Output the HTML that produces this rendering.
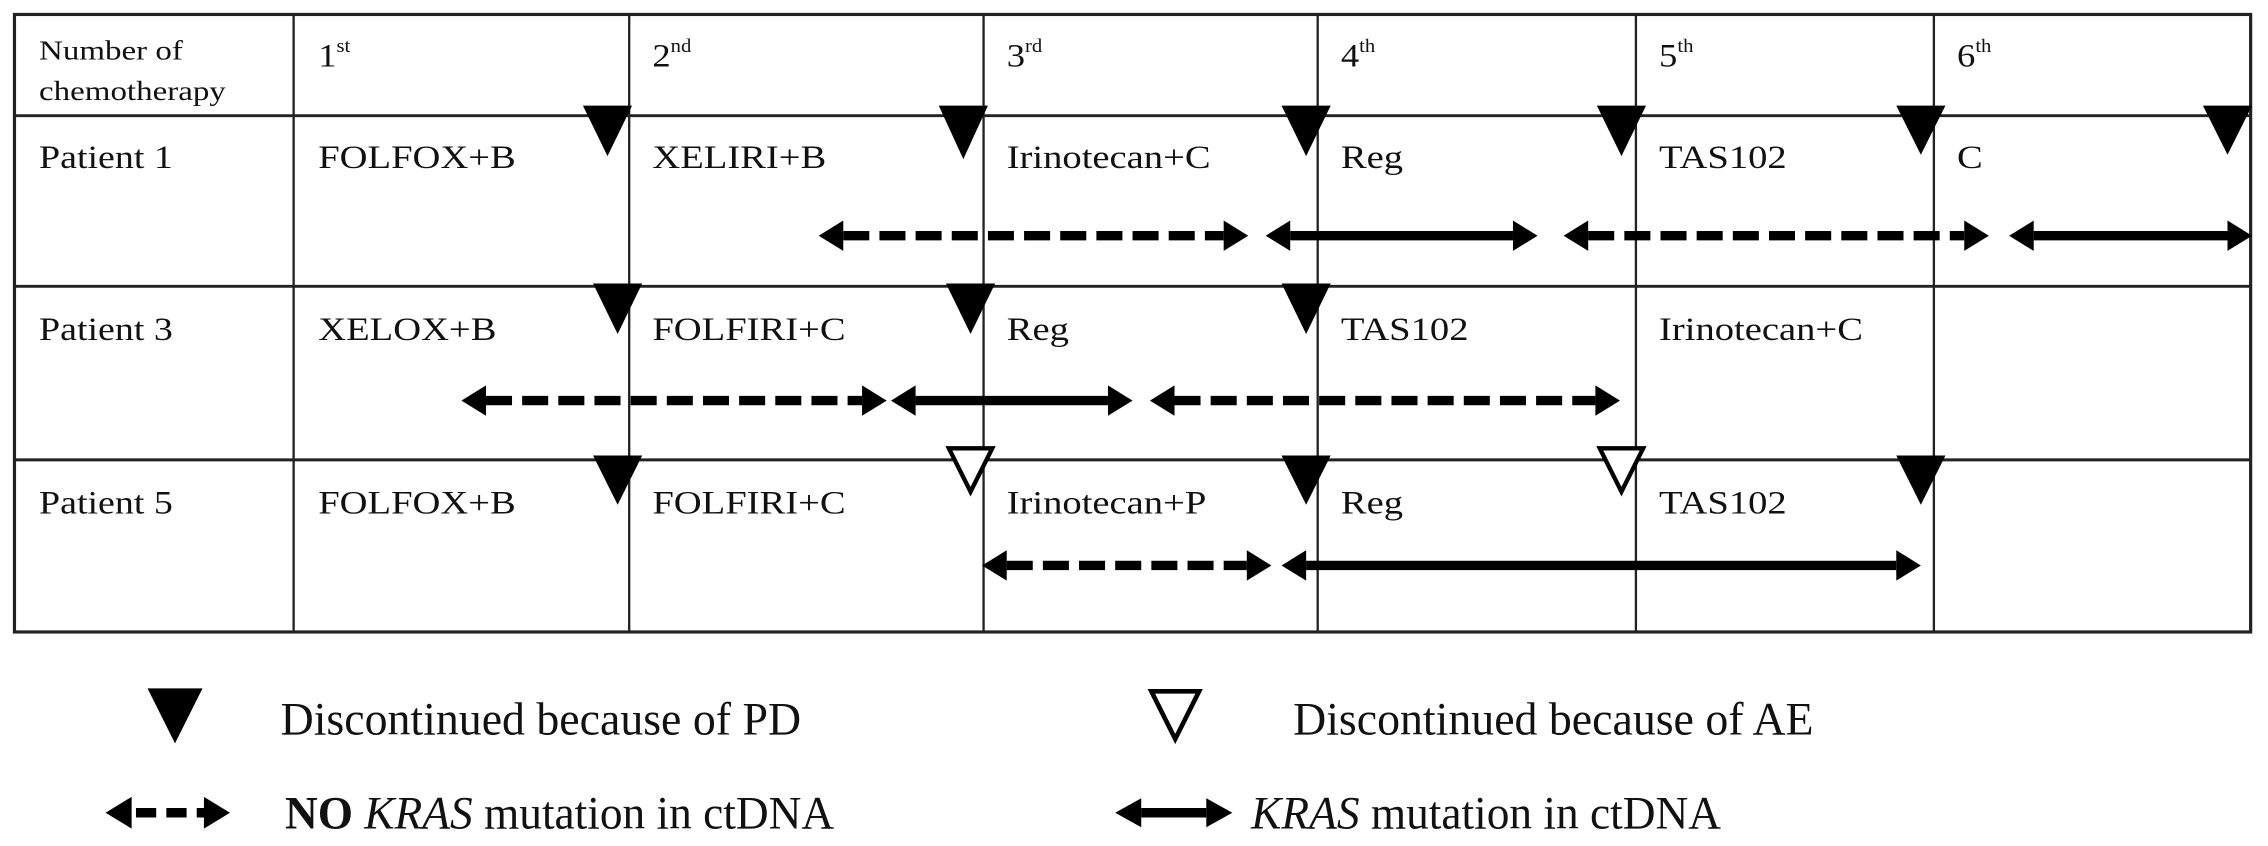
<!DOCTYPE html>
<html><head><meta charset="utf-8"><style>
html,body{margin:0;padding:0;background:#fff;}
svg{display:block;}
text{font-family:"Liberation Serif",serif;fill:#111;}
</style></head><body>
<svg width="2268" height="846" viewBox="0 0 1568 585" preserveAspectRatio="none" xmlns="http://www.w3.org/2000/svg">
<g stroke="#222" stroke-width="1.6" fill="none">
<rect x="10" y="10" width="1546" height="427" stroke-width="2.2"/>
<line x1="10" y1="80" x2="1556" y2="80" stroke-width="2"/>
<line x1="10" y1="198" x2="1556" y2="198" stroke-width="2"/>
<line x1="10" y1="318" x2="1556" y2="318" stroke-width="2"/>
<line x1="203" y1="10" x2="203" y2="437"/>
<line x1="435" y1="10" x2="435" y2="437"/>
<line x1="680" y1="10" x2="680" y2="437"/>
<line x1="911" y1="10" x2="911" y2="437"/>
<line x1="1131" y1="10" x2="1131" y2="437"/>
<line x1="1337" y1="10" x2="1337" y2="437"/>
</g>
<g font-size="19">
<text transform="matrix(1.2,0,0,1,27,41)">Number of</text>
<text transform="matrix(1.2,0,0,1,27,69)">chemotherapy</text>
</g>
<g font-size="23">
<text transform="matrix(1.1,0,0,1,220,46)">1<tspan font-size="13" dy="-10">st</tspan></text>
<text transform="matrix(1.1,0,0,1,451,46)">2<tspan font-size="13" dy="-10">nd</tspan></text>
<text transform="matrix(1.1,0,0,1,696,46)">3<tspan font-size="13" dy="-10">rd</tspan></text>
<text transform="matrix(1.1,0,0,1,927,46)">4<tspan font-size="13" dy="-10">th</tspan></text>
<text transform="matrix(1.1,0,0,1,1147,46)">5<tspan font-size="13" dy="-10">th</tspan></text>
<text transform="matrix(1.1,0,0,1,1353,46)">6<tspan font-size="13" dy="-10">th</tspan></text>
<text transform="matrix(1.14,0,0,1,27,116)">Patient 1</text>
<text transform="matrix(1.16,0,0,1,220,116)">FOLFOX+B</text>
<text transform="matrix(1.16,0,0,1,451,116)">XELIRI+B</text>
<text transform="matrix(1.16,0,0,1,696,116)">Irinotecan+C</text>
<text transform="matrix(1.16,0,0,1,927,116)">Reg</text>
<text transform="matrix(1.16,0,0,1,1147,116)">TAS102</text>
<text transform="matrix(1.16,0,0,1,1353,116)">C</text>
<text transform="matrix(1.14,0,0,1,27,235)">Patient 3</text>
<text transform="matrix(1.16,0,0,1,220,235)">XELOX+B</text>
<text transform="matrix(1.16,0,0,1,451,235)">FOLFIRI+C</text>
<text transform="matrix(1.16,0,0,1,696,235)">Reg</text>
<text transform="matrix(1.16,0,0,1,927,235)">TAS102</text>
<text transform="matrix(1.16,0,0,1,1147,235)">Irinotecan+C</text>
<text transform="matrix(1.14,0,0,1,27,355)">Patient 5</text>
<text transform="matrix(1.16,0,0,1,220,355)">FOLFOX+B</text>
<text transform="matrix(1.16,0,0,1,451,355)">FOLFIRI+C</text>
<text transform="matrix(1.16,0,0,1,696,355)">Irinotecan+P</text>
<text transform="matrix(1.16,0,0,1,927,355)">Reg</text>
<text transform="matrix(1.16,0,0,1,1147,355)">TAS102</text>
</g>
<g fill="#000">
<path d="M403,73 h34 l-17,35 z"/>
<path d="M649,73 h34 l-17,37 z"/>
<path d="M886,73 h34 l-17,35 z"/>
<path d="M1104,73 h34 l-17,35 z"/>
<path d="M1311,73 h34 l-17,34 z"/>
<path d="M1523,73 h34 l-17,34 z"/>
<path d="M410,196 h34 l-17,35 z"/>
<path d="M654,196 h34 l-17,35 z"/>
<path d="M886,196 h34 l-17,35 z"/>
<path d="M410,315 h34 l-17,34 z"/>
<path d="M886,315 h34 l-17,34 z"/>
<path d="M1311,315 h34 l-17,34 z"/>
</g>
<g fill="#fff" stroke="#000" stroke-width="3">
<path d="M656,310 h30 l-15,30 z"/>
<path d="M1106,310 h30 l-15,30 z"/>
</g>
<g stroke="#000" stroke-width="6.5" fill="none">
<line x1="583" y1="163" x2="846" y2="163" stroke-dasharray="18,7"/>
<line x1="892" y1="163" x2="1046" y2="163"/>
<line x1="1098" y1="163" x2="1358" y2="163" stroke-dasharray="18,7"/>
<line x1="1406" y1="163" x2="1540" y2="163"/>
<line x1="336" y1="277" x2="596" y2="277" stroke-dasharray="18,7"/>
<line x1="633" y1="277" x2="766" y2="277"/>
<line x1="812" y1="277" x2="1103" y2="277" stroke-dasharray="18,7"/>
<line x1="696" y1="391" x2="862" y2="391" stroke-dasharray="18,7"/>
<line x1="903" y1="391" x2="1311" y2="391"/>
<line x1="91" y1="562" x2="143" y2="562" stroke-dasharray="14,7" stroke-dashoffset="-3"/>
<line x1="789" y1="562" x2="834" y2="562"/>
</g>
<g fill="#000">
<path d="M566,163 l17,-10.5 v21 z"/><path d="M863,163 l-17,-10.5 v21 z"/>
<path d="M875,163 l17,-10.5 v21 z"/><path d="M1063,163 l-17,-10.5 v21 z"/>
<path d="M1081,163 l17,-10.5 v21 z"/><path d="M1375,163 l-17,-10.5 v21 z"/>
<path d="M1389,163 l17,-10.5 v21 z"/><path d="M1557,163 l-17,-10.5 v21 z"/>
<path d="M319,277 l17,-10.5 v21 z"/><path d="M613,277 l-17,-10.5 v21 z"/>
<path d="M616,277 l17,-10.5 v21 z"/><path d="M783,277 l-17,-10.5 v21 z"/>
<path d="M795,277 l17,-10.5 v21 z"/><path d="M1120,277 l-17,-10.5 v21 z"/>
<path d="M679,391 l17,-10.5 v21 z"/><path d="M879,391 l-17,-10.5 v21 z"/>
<path d="M886,391 l17,-10.5 v21 z"/><path d="M1328,391 l-17,-10.5 v21 z"/>
<path d="M73,562 l18,-11 v22 z"/><path d="M159,562 l-18,-11 v22 z"/>
<path d="M771,562 l18,-10 v20 z"/><path d="M852,562 l-18,-10 v20 z"/>
</g>
<path d="M102,476 h38 l-19,38 z" fill="#000"/>
<path d="M796,478 h33 l-16.5,33 z" fill="#fff" stroke="#000" stroke-width="3.2"/>
<g font-size="32">
<text transform="matrix(0.99,0,0,1,194,508)">Discontinued because of PD</text>
<text transform="matrix(0.99,0,0,1,894,508)">Discontinued because of AE</text>
<text transform="matrix(0.98,0,0,1,197,573)"><tspan font-weight="bold">NO</tspan> <tspan font-style="italic">KRAS</tspan> mutation in ctDNA</text>
<text transform="matrix(0.98,0,0,1,865,573)"><tspan font-style="italic">KRAS</tspan> mutation in ctDNA</text>
</g>
</svg>
</body></html>
